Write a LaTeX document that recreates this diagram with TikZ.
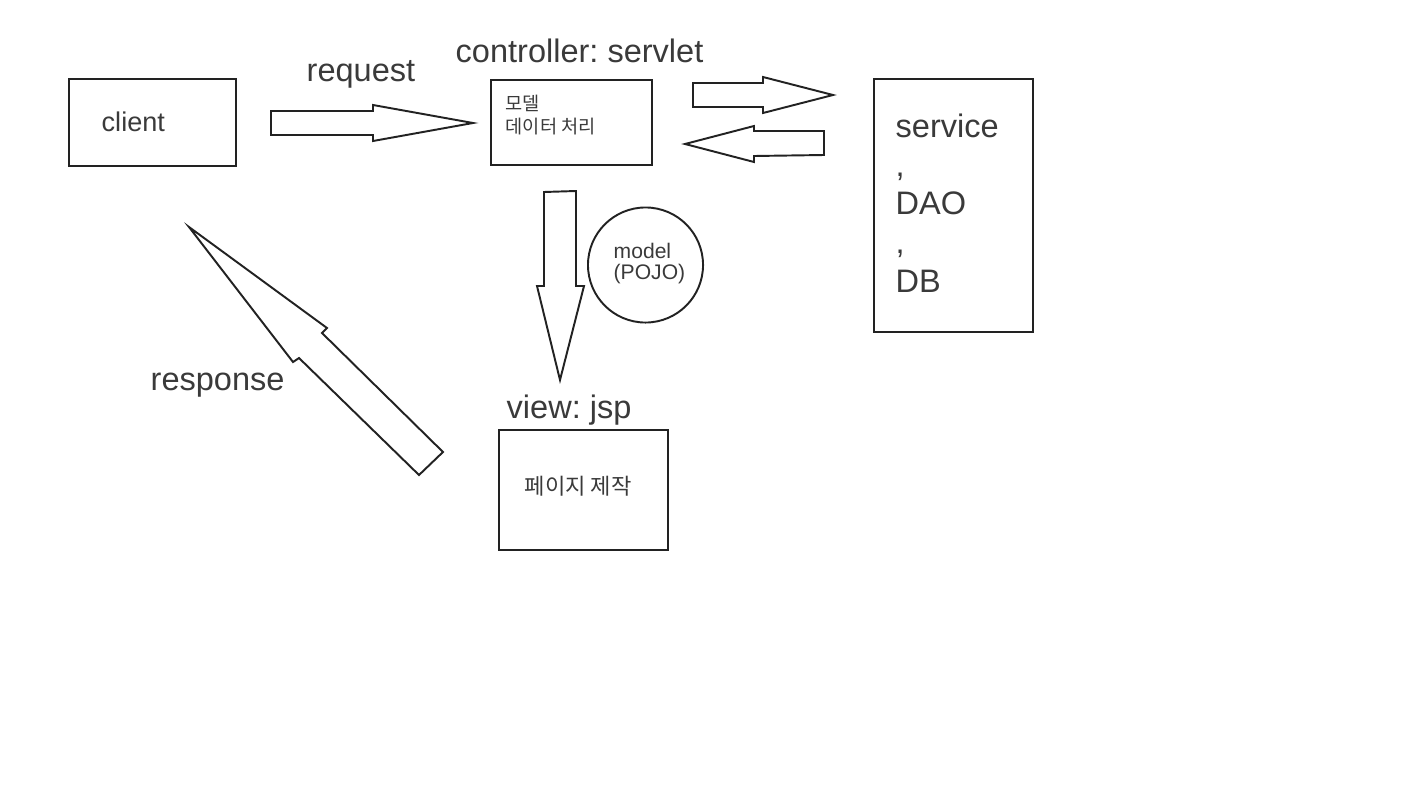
\documentclass[tikz,border=0pt]{standalone}
\usepackage{fontspec}
\setmainfont{Liberation Sans}
\newfontfamily\kr{Noto Sans CJK KR}
\usepackage{tikz}
\usetikzlibrary{positioning}
\usepackage{xcolor}
\frenchspacing
\definecolor{mvcline}{RGB}{34,34,34}
\definecolor{mvctext}{RGB}{58,58,58}
\tikzstyle{box} = [rectangle, draw=mvcline, line width=0.55pt, inner sep=0pt]
\tikzstyle{blockarrow} = [draw=mvcline, line width=0.55pt, line join=miter, fill=white]
\tikzstyle{lbl} = [text=mvctext, inner sep=0pt, anchor=base west, font=\fontsize{9.25}{11}\selectfont]

\begin{document}
\begin{tikzpicture}[x=0.01cm, y=-0.01cm]
\useasboundingbox (0,0) rectangle (1422,800);

% Boxes
\node (client) [box, minimum width=1.67cm, minimum height=0.87cm] at (152.5,122.5) {};
\node (servlet) [box, minimum width=1.61cm, minimum height=0.85cm] at (571.5,122.5) {};
\node (service) [box, minimum width=1.59cm, minimum height=2.53cm] at (953.5,205.5) {};
\node (jsp) [box, minimum width=1.69cm, minimum height=1.2cm] at (583.5,490) {};
\node (pojo) [circle, draw=mvcline, line width=0.55pt, minimum size=1.15cm] at (645.5,265) {};

% Texts (multi-line ones sit on their last baseline)
\node (clienttxt) [lbl, font=\fontsize{7.7}{9}\selectfont] at (101,131) {client};
\node (reqtxt) [lbl] at (306,81) {request};
\node (ctrltxt) [lbl] at (455,62) {controller: servlet};
\node (viewtxt) [lbl] at (506,418) {view: jsp};
\node (resptxt) [lbl] at (150,390) {response};
\node (modeltxt) [lbl, font=\kr\fontsize{5.3}{6.26}\selectfont, align=left] at (505,133) {모델\\데이터 처리};
\node (pagetxt) [lbl, font=\kr\fontsize{6.3}{7}\selectfont] at (524,494) {페이지 제작};
\node (pojotxt) [lbl, font=\fontsize{6}{5.7}\selectfont, align=left] at (613,279) {model\\(POJO)};
\node (servicetxt) [lbl, font=\fontsize{9.25}{10.95}\selectfont, align=left] at (895,292) {service\\,\\DAO\\,\\DB};

% Arrows
\draw[blockarrow] (271,111) -- (373,111) -- (373,105) -- (473,123) -- (373,141) -- (373,135) -- (271,135) -- cycle;
\draw[blockarrow] (693,83) -- (763,83) -- (763,77) -- (833,95) -- (763,113) -- (763,107) -- (693,107) -- cycle;
\draw[blockarrow] (824,131) -- (754,131) -- (754,126) -- (685,144) -- (754,162) -- (754,156) -- (824,155) -- cycle;
\draw[blockarrow] (544,192) -- (576,191) -- (576,286) -- (584,286) -- (560,380) -- (537,286) -- (544,286) -- cycle;
\draw[blockarrow] (189,227) -- (327,328) -- (322,333) -- (443,452) -- (419,475) -- (299,358) -- (293,362) -- cycle;
\end{tikzpicture}
\end{document}
